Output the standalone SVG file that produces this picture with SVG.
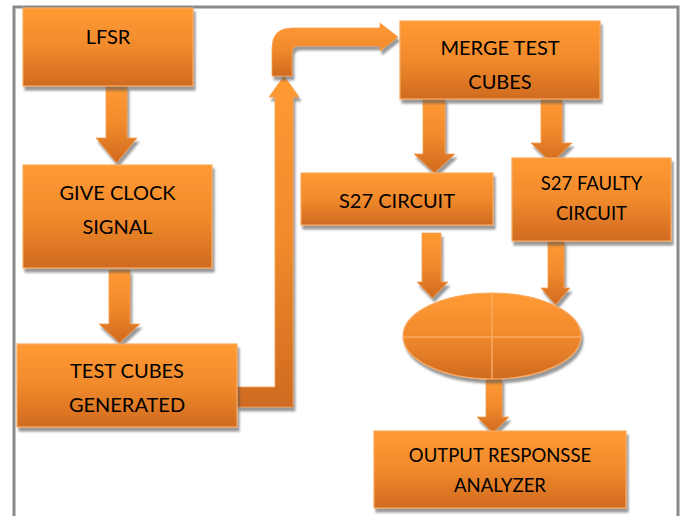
<svg xmlns="http://www.w3.org/2000/svg" width="684" height="516" viewBox="0 0 684 516">
<defs>
<linearGradient id="og" x1="0" y1="0" x2="0" y2="1">
<stop offset="0" stop-color="#ff9a33"/>
<stop offset="0.5" stop-color="#f08a2c"/>
<stop offset="1" stop-color="#d06a20"/>
</linearGradient>
<filter id="sh" x="-10%" y="-10%" width="125%" height="130%">
<feDropShadow dx="2" dy="4" stdDeviation="1" flood-color="#555" flood-opacity="0.6"/>
</filter>
</defs>
<style>
.box{fill:url(#og);stroke:#f9aa62;stroke-width:1.2;filter:url(#sh)}
.arr{fill:url(#og);stroke:#f5a050;stroke-width:0.8;filter:url(#sh)}
.t{font-family:Lato,"Liberation Sans",sans-serif;font-size:20px;fill:#000;text-anchor:middle}
.s{font-size:18.5px}
</style>
<rect x="0" y="0" width="684" height="516" fill="#fff"/>
<path d="M14,520 L14,7 L678,7 L678,520" fill="none" stroke="#8a8a8a" stroke-width="3"/>
<g id="connectors">
<polygon class="arr" points="106,86 127,86 127,138 137,138 116.5,163 96,138 106,138"/>
<polygon class="arr" points="109,270 130,270 130,324 140,324 119.5,343 99,324 109,324"/>
<polygon class="arr" points="237,387 275,387 275,97 269,97 284,76 299,97 293,97 293,407 237,407"/>
<path class="arr" d="M272,76 L272,48 Q272,28 292,28 L380,28 L380,23 L398,37 L380,51 L380,46 L299,46 Q292,46 292,53 L292,76 Z"/>
<polygon class="arr" points="423,99 445,99 445,154 455,154 434.5,173 414,154 423,154"/>
<polygon class="arr" points="541,99 562,99 562,143 572,143 551.5,163 531,143 541,143"/>
<polygon class="arr" points="422,233 441,233 441,282 448,282 432.5,298 417,282 422,282"/>
<polygon class="arr" points="548,241 564,241 564,288 570,288 555.5,305 541,288 548,288"/>
<polygon class="arr" points="486,379 502,379 502,417 509,417 493,433 477,417 486,417"/>
</g>
<g id="lfsr">
<rect class="box" x="23" y="8" width="170" height="78"/>
<text class="t" x="108" y="44">LFSR</text>
</g>
<g id="give-clock">
<rect class="box" x="23" y="165" width="189" height="103"/>
<text class="t" x="117.5" y="200">GIVE CLOCK</text>
<text class="t" x="117.5" y="234">SIGNAL</text>
</g>
<g id="test-cubes">
<rect class="box" x="17" y="344" width="220" height="83"/>
<text class="t" x="127" y="378">TEST CUBES</text>
<text class="t" x="127" y="412">GENERATED</text>
</g>
<g id="merge">
<rect class="box" x="400" y="21" width="200" height="78"/>
<text class="t" x="500" y="55">MERGE TEST</text>
<text class="t" x="500" y="89">CUBES</text>
</g>
<g id="s27">
<rect class="box" x="301" y="173" width="192" height="52"/>
<text class="t" x="397" y="208">S27 CIRCUIT</text>
</g>
<g id="s27-faulty">
<rect class="box" x="512" y="158" width="159" height="83"/>
<text class="t s" x="591.5" y="190">S27 FAULTY</text>
<text class="t s" x="591.5" y="220">CIRCUIT</text>
</g>
<g id="compare">
<ellipse class="box" cx="492" cy="336" rx="89" ry="43"/>
<line x1="492" y1="293" x2="492" y2="379" stroke="#f9aa62" stroke-width="1.5"/>
<line x1="403" y1="337" x2="581" y2="337" stroke="#f9aa62" stroke-width="1.5"/>
</g>
<g id="ora">
<rect class="box" x="374" y="431" width="252" height="77"/>
<text class="t s" x="500" y="462">OUTPUT RESPONSSE</text>
<text class="t s" x="500" y="492">ANALYZER</text>
</g>
</svg>
